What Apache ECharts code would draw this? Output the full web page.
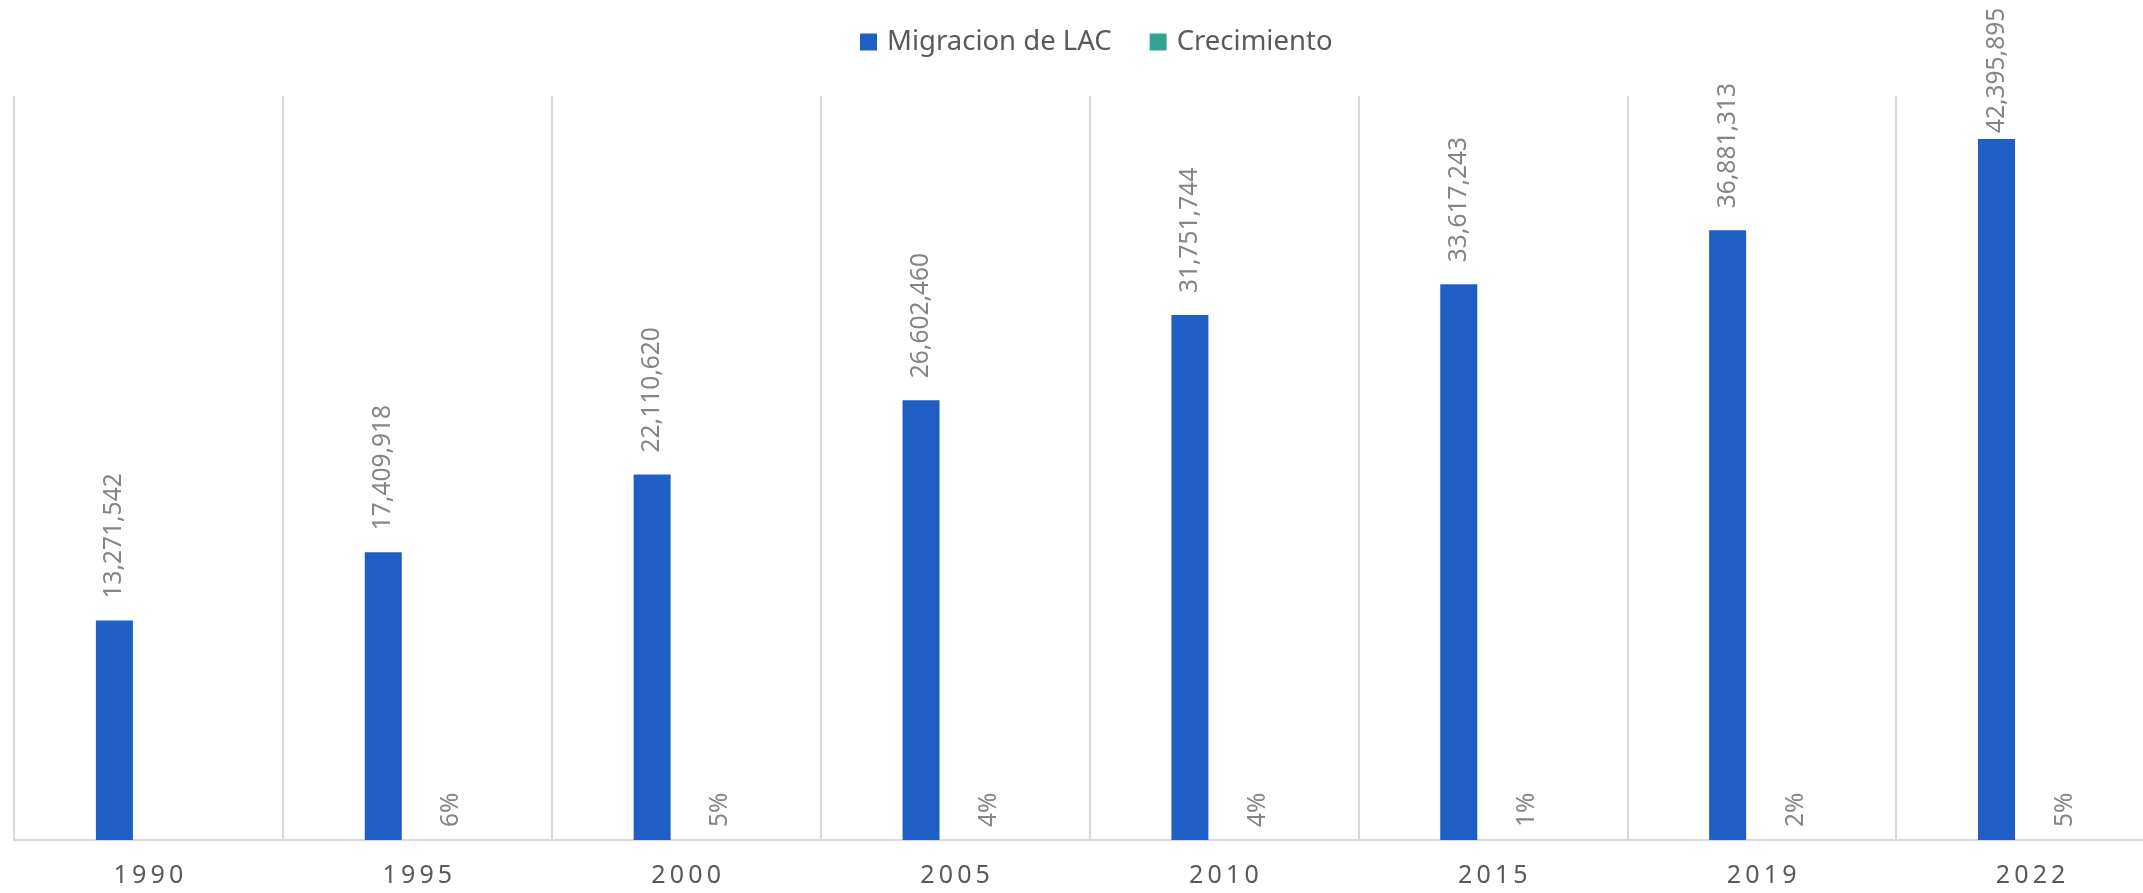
<!DOCTYPE html>
<html>
<head>
<meta charset="utf-8">
<script src="https://cdn.jsdelivr.net/npm/echarts@6/dist/echarts.min.js"></script>
<style>
  html, body { margin: 0; padding: 0; background: #fff; overflow: hidden; }
  /* plot in the original runs a bit past the right edge, so the canvas is wider than the window */
  #chart { width: 2165px; height: 893px; }
</style>
</head>
<body>
<div id="chart"></div>
<script>
// data
const years = ["1990", "1995", "2000", "2005", "2010", "2015", "2019", "2022"];
const migracion = [13271542, 17409918, 22110620, 26602460, 31751744, 33617243, 36881313, 42395895];
const crecimiento = [null, 0.06, 0.05, 0.04, 0.04, 0.01, 0.02, 0.05];

const chart = echarts.init(document.getElementById("chart"));
const font = "'Noto Sans', sans-serif";

let option = {
  animation: false,
  legend: {
    top: 23,
    left: 855,
    icon: "rect",
    itemWidth: 17,
    itemHeight: 17,
    itemGap: 38,
    textStyle: {
      color: "#595959",
      fontSize: 27.5,
      fontFamily: font,
      padding: [0, 0, 0, 5],
    },
    data: ["Migracion de LAC", "Crecimiento"],
  },
  grid: {
    left: 14,
    right: 0,
    top: 96,
    bottom: 53,
    containLabel: false,
  },
  xAxis: {
    type: "category",
    data: years,
    axisTick: { show: false },
    axisLine: {
      lineStyle: { color: "#d9d9d9", width: 2 },
    },
    splitLine: {
      show: true,
      lineStyle: { color: "#d9d9d9", width: 2 },
    },
    axisLabel: {
      color: "#595959",
      fontSize: 25,
      fontFamily: font,
      margin: 23,
      // wide tracking like the original
      formatter: (v) => v.split("").join("\u2009"),
    },
  },
  yAxis: {
    type: "value",
    min: 0,
    max: 45000000,
    show: false,
    splitLine: { show: false },
  },
  series: [
    {
      name: "Migracion de LAC",
      type: "bar",
      barWidth: 37,
      barGap: "84%",
      itemStyle: { color: "#1F5EC4" },
      label: {
        show: true,
        position: "top",
        rotate: 90,
        align: "left",
        verticalAlign: "middle",
        color: "#858585",
        fontSize: 24.5,
        fontFamily: font,
        formatter: (p) => p.value.toLocaleString("en-US"),
      },
      // last label is squeezed under the top edge, as in the original
      data: migracion.map((v, i) => ({
        value: v,
        label: { distance: i === migracion.length - 1 ? 6 : 22 },
      })),
    },
    {
      name: "Crecimiento",
      type: "bar",
      barWidth: 37,
      itemStyle: { color: "#31A594" },
      label: {
        show: true,
        position: "top",
        distance: 13,
        rotate: 90,
        align: "left",
        verticalAlign: "middle",
        color: "#858585",
        fontSize: 24.5,
        fontFamily: font,
        formatter: (p) => (p.value == null ? "" : Math.round(p.value * 100) + "%"),
      },
      data: crecimiento,
    },
  ],
};
chart.setOption(option);
</script>
</body>
</html>
